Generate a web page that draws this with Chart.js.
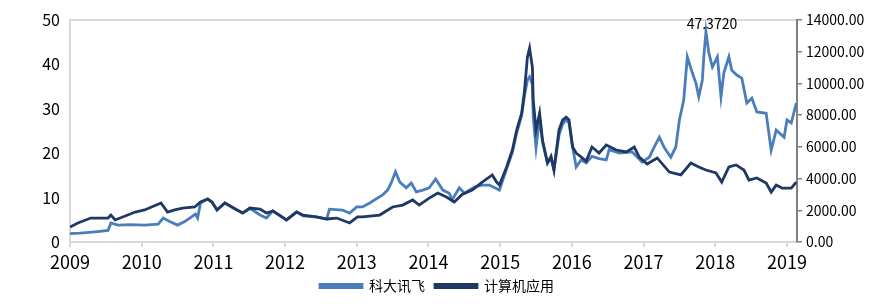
<!DOCTYPE html>
<html lang="zh">
<head>
    <meta charset="UTF-8">
    <title>科大讯飞 vs 计算机应用</title>
    <style>
        body {
    margin: 0;
    background-color: #ffffff;
}

#wrap {
    width: 874px;
    height: 307px;
    position: relative;
}
    </style>
    <script src="https://cdn.jsdelivr.net/npm/chart.js"></script>
</head>
<body>

    <div id="wrap">
        <canvas id="myChart"></canvas>
    </div>

    <script>
        // 科大讯飞 share price (left axis)
        const kdxfYears = [2009.00, 2009.14, 2009.35, 2009.53, 2009.57, 2009.67, 2009.84, 2010.04, 2010.23, 2010.30,
            2010.39, 2010.50, 2010.60, 2010.69, 2010.75, 2010.78, 2010.82, 2010.92, 2010.98, 2011.05,
            2011.16, 2011.33, 2011.41, 2011.51, 2011.65, 2011.74, 2011.83, 2012.02, 2012.16, 2012.25,
            2012.44, 2012.58, 2012.62, 2012.80, 2012.90, 2013.00, 2013.08, 2013.18, 2013.36, 2013.43,
            2013.48, 2013.54, 2013.60, 2013.69, 2013.76, 2013.83, 2013.92, 2014.01, 2014.10, 2014.20,
            2014.29, 2014.33, 2014.43, 2014.50, 2014.64, 2014.75, 2014.85, 2014.99, 2015.09, 2015.17,
            2015.23, 2015.30, 2015.34, 2015.38, 2015.41, 2015.45, 2015.46, 2015.50, 2015.55, 2015.59,
            2015.66, 2015.71, 2015.75, 2015.82, 2015.87, 2015.92, 2015.96, 2016.01, 2016.06, 2016.13,
            2016.20, 2016.28, 2016.38, 2016.48, 2016.52, 2016.66, 2016.84, 2016.98, 2017.08, 2017.15,
            2017.22, 2017.29, 2017.38, 2017.45, 2017.50, 2017.56, 2017.61, 2017.68, 2017.73, 2017.77,
            2017.82, 2017.84, 2017.87, 2017.91, 2017.96, 2018.03, 2018.08, 2018.12, 2018.19, 2018.23,
            2018.30, 2018.37, 2018.44, 2018.51, 2018.58, 2018.71, 2018.78, 2018.85, 2018.96, 2019.00,
            2019.06, 2019.13];
        const kdxfValues = [1.9, 2.0, 2.3, 2.6, 4.3, 3.8, 3.9, 3.8, 4.0, 5.4,
            4.6, 3.8, 4.6, 5.6, 6.3, 5.4, 8.8, 9.7, 9.0, 7.2,
            8.8, 7.2, 6.5, 7.6, 6.1, 5.4, 7.0, 5.0, 6.8, 5.9,
            5.6, 5.2, 7.4, 7.2, 6.5, 7.9, 7.9, 8.8, 10.6, 11.7,
            13.3, 15.8, 13.5, 12.2, 13.3, 11.3, 11.7, 12.2, 14.2, 11.7,
            11.0, 9.5, 12.2, 11.0, 12.4, 12.8, 12.8, 11.7, 16.5, 20.2,
            24.5, 28.5, 33.0, 36.5, 37.2, 35.5, 28.2, 21.2, 28.0, 22.5,
            17.8, 18.8, 16.2, 24.0, 26.5, 27.5, 26.8, 21.4, 16.9, 18.5,
            17.8, 19.3, 18.8, 18.5, 20.8, 20.0, 20.3, 18.0, 19.1, 21.4,
            23.6, 21.2, 19.1, 21.4, 27.5, 32.0, 41.7, 38.1, 35.8, 32.7,
            36.5, 41.7, 47.372, 42.6, 39.4, 41.7, 32.7, 38.1, 41.7, 38.7,
            37.6, 36.9, 31.3, 32.4, 29.3, 29.0, 20.7, 25.2, 23.6, 27.5,
            26.8, 31.3];

        // 计算机应用 index (right axis)
        const indexYears = [2009.00, 2009.11, 2009.29, 2009.53, 2009.57, 2009.63, 2009.91, 2010.04, 2010.27, 2010.36,
            2010.46, 2010.57, 2010.74, 2010.82, 2010.92, 2010.98, 2011.05, 2011.16, 2011.33, 2011.41,
            2011.51, 2011.65, 2011.74, 2011.83, 2012.02, 2012.16, 2012.25, 2012.44, 2012.58, 2012.72,
            2012.90, 2013.01, 2013.08, 2013.32, 2013.50, 2013.64, 2013.78, 2013.87, 2014.01, 2014.13,
            2014.25, 2014.36, 2014.47, 2014.61, 2014.75, 2014.89, 2014.95, 2014.99, 2015.09, 2015.17,
            2015.23, 2015.30, 2015.34, 2015.38, 2015.41, 2015.45, 2015.46, 2015.50, 2015.55, 2015.59,
            2015.66, 2015.71, 2015.75, 2015.82, 2015.87, 2015.92, 2015.96, 2016.01, 2016.06, 2016.13,
            2016.20, 2016.28, 2016.38, 2016.48, 2016.62, 2016.76, 2016.87, 2016.94, 2017.05, 2017.19,
            2017.36, 2017.52, 2017.66, 2017.77, 2017.87, 2018.01, 2018.09, 2018.19, 2018.29, 2018.40,
            2018.47, 2018.58, 2018.71, 2018.78, 2018.85, 2018.93, 2019.06, 2019.13];
        const indexValues = [946, 1200, 1510, 1510, 1700, 1390, 1890, 2020, 2460, 1890,
            2020, 2140, 2210, 2520, 2710, 2520, 2020, 2460, 2020, 1830,
            2140, 2080, 1830, 1950, 1390, 1890, 1700, 1580, 1450, 1510,
            1200, 1580, 1580, 1700, 2210, 2330, 2650, 2330, 2770, 3090,
            2840, 2520, 3000, 3280, 3780, 4230, 3780, 3590, 4730, 5800,
            7060, 8130, 9580, 11670, 12230, 11000, 9000, 7060, 8130, 6430,
            4980, 5400, 4540, 7060, 7690, 7880, 7700, 5990, 5610, 5360,
            5100, 5990, 5610, 6120, 5800, 5680, 5990, 5360, 4920, 5300,
            4410, 4230, 4980, 4730, 4540, 4350, 3780, 4730, 4860, 4540,
            3910, 4040, 3720, 3150, 3590, 3400, 3400, 3780];

        const seriesNames = ['科大讯飞', '计算机应用'];
        const yearTicks = [2009, 2010, 2011, 2012, 2013, 2014, 2015, 2016, 2017, 2018, 2019];
        const peakLabel = '47.3720';

        const lightBlue = '#4a7ebb';
        const darkBlue = '#1f3864';
        const fontFamily = "'Noto Sans CJK SC', 'Liberation Sans', sans-serif";

        // writes the max value above the 科大讯飞 peak
        const peakPlugin = {
            id: 'peakLabel',
            afterDatasetsDraw(chart) {
                const meta = chart.getDatasetMeta(0);
                let best = 0;
                kdxfValues.forEach((v, i) => { if (v > kdxfValues[best]) best = i; });
                const pt = meta.data[best];
                const ctx = chart.ctx;
                ctx.save();
                ctx.font = '14px ' + fontFamily;
                ctx.fillStyle = '#000';
                ctx.textAlign = 'center';
                ctx.textBaseline = 'middle';
                ctx.fillText(peakLabel, pt.x + 6, pt.y - 8);
                ctx.restore();
            }
        };

        const ctx = document.getElementById('myChart').getContext('2d');
        const myChart = new Chart(ctx, {
            type: 'line',
            data: {
                datasets: [
                    {
                        label: seriesNames[0],
                        data: kdxfYears.map((x, i) => ({ x: x, y: kdxfValues[i] })),
                        borderColor: lightBlue,
                        backgroundColor: lightBlue,
                        borderWidth: 2.8,
                        pointRadius: 0,
                        yAxisID: 'y',
                        order: 1
                    },
                    {
                        label: seriesNames[1],
                        data: indexYears.map((x, i) => ({ x: x, y: indexValues[i] })),
                        borderColor: darkBlue,
                        backgroundColor: darkBlue,
                        borderWidth: 2.8,
                        pointRadius: 0,
                        yAxisID: 'y1',
                        order: 0
                    }
                ]
            },
            options: {
                responsive: true,
                maintainAspectRatio: false,
                animation: false,
                layout: { padding: { top: 20, bottom: 4 } },
                plugins: {
                    tooltip: { enabled: false },
                    legend: {
                        position: 'bottom',
                        labels: {
                            boxWidth: 42,
                            boxHeight: 3,
                            padding: 10,
                            color: '#000',
                            font: { family: fontFamily, size: 14 },
                            sort: (a, b) => a.datasetIndex - b.datasetIndex
                        }
                    }
                },
                scales: {
                    x: {
                        type: 'linear',
                        min: 2009,
                        max: 2019.14,
                        afterBuildTicks: (scale) => {
                            scale.ticks = yearTicks.map(v => ({ value: v }));
                        },
                        afterFit: (scale) => { scale.height = 27; },
                        ticks: {
                            color: '#000',
                            padding: 4,
                            maxRotation: 0,
                            font: { family: fontFamily, size: 18 },
                            callback: (v) => String(v)
                        },
                        grid: { drawOnChartArea: false, tickLength: 5, color: '#d9d9d9', lineWidth: 2 },
                        border: { color: '#d9d9d9', width: 2 }
                    },
                    y: {
                        position: 'left',
                        min: 0,
                        max: 50,
                        afterFit: (scale) => { scale.width = 70; },
                        ticks: {
                            stepSize: 10,
                            color: '#000',
                            padding: 10,
                            font: { family: fontFamily, size: 16 }
                        },
                        grid: {
                            drawTicks: false,
                            color: (c) => c.tick.value === 50 ? '#d9d9d9' : 'rgba(0,0,0,0)',
                            lineWidth: 2
                        },
                        border: { color: '#d9d9d9', width: 2 }
                    },
                    y1: {
                        position: 'right',
                        min: 0,
                        max: 14000,
                        afterFit: (scale) => { scale.width = 77; },
                        ticks: {
                            stepSize: 2000,
                            color: '#000',
                            padding: 4,
                            font: { family: fontFamily, size: 14 },
                            callback: (v) => v.toFixed(2)
                        },
                        grid: { drawOnChartArea: false, tickLength: 5, color: '#808080', lineWidth: 1.5 },
                        border: { color: '#808080', width: 2 }
                    }
                }
            },
            plugins: [peakPlugin]
        });
    </script>

</body>
</html>
